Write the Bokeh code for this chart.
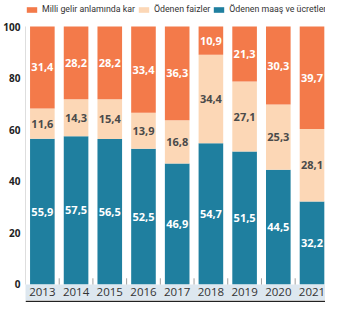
import numpy as np
from bokeh.plotting import figure
from bokeh.models import ColumnDataSource, Legend, LegendItem, Span, FixedTicker
from bokeh.core.properties import value
from bokeh.embed import file_html
from bokeh.resources import INLINE

# ---- data ----
years = ["2013", "2014", "2015", "2016", "2017", "2018", "2019", "2020", "2021"]
maas = [55.9, 57.5, 56.5, 52.5, 46.9, 54.7, 51.5, 44.5, 32.2]   # Ödenen maaş ve ücretler
faiz = [11.6, 14.3, 15.4, 13.9, 16.8, 34.4, 27.1, 25.3, 28.1]   # Ödenen faizler
kar = [31.4, 28.2, 28.2, 33.4, 36.3, 10.9, 21.3, 30.3, 39.7]    # Milli gelir anlamında kar
y_ticks = [0, 20, 40, 60, 80, 100]
series_names = ["Milli gelir anlamında kar", "Ödenen faizler", "Ödenen maaş ve ücretler"]

ORANGE = "#F37A4A"
BEIGE = "#FCD7B6"
BLUE = "#1F7F9F"
BAND = "#DDE7EF"

# 100% stacked: normalise each year to 100
m = np.array(maas); f = np.array(faiz); k = np.array(kar)
tot = m + f + k
mn = m / tot * 100; fn = f / tot * 100; kn = k / tot * 100
x = np.arange(len(years))

def fmt(v):
    return f"{v:.1f}".replace(".", ",")

src = ColumnDataSource(dict(
    x=x, maas=mn, faiz=fn, kar=kn,
    maas_y=mn / 2, faiz_y=mn + fn / 2, kar_y=mn + fn + kn / 2,
    maas_t=[fmt(v) for v in maas], faiz_t=[fmt(v) for v in faiz], kar_t=[fmt(v) for v in kar],
    years=years,
))

x_start, x_end = -0.5, len(years) - 1 + 0.4
y_top = 110.08
y_bottom = -6.98
band_bottom = -6.0

p = figure(width=325, height=302, x_range=(x_start, x_end), y_range=(y_bottom, y_top),
           toolbar_location=None, output_backend="svg", x_axis_location=None,
           min_border=0, min_border_left=0, min_border_right=0, min_border_top=0,
           min_border_bottom=0, outline_line_color=None)
p.grid.visible = False

BAR_W = 0.73
rs = p.vbar_stack(["maas", "faiz", "kar"], x="x", width=BAR_W, source=src,
                  color=[BLUE, BEIGE, ORANGE], line_color=None)
r_maas, r_faiz, r_kar = rs

# band under bars with year labels
p.quad(left=x_start - 0.05, right=x_end, bottom=band_bottom, top=y_ticks[0],
       fill_color=BAND, line_color=None)
p.text(x="x", y=band_bottom / 2, text="years", source=src, text_align="center",
       text_baseline="middle", text_font=value("Open Sans"), text_font_size="11.5px",
       text_color="#333333")

# small separators between categories
sep = x[:-1] + 0.5
p.segment(x0=sep, y0=[y_ticks[0]] * len(sep), x1=sep, y1=[2.4] * len(sep),
          line_color="#A0A0A0", line_width=1)

# y-axis line
p.segment(x0=[x_start], y0=[y_ticks[0]], x1=[x_start], y1=[y_ticks[-1]],
          line_color="#BDBDBD", line_width=1)

# bottom rule
p.add_layout(Span(location=-6.6, dimension="width", line_color="#222222", line_width=1.5))

# value labels
common = dict(source=src, x="x", text_align="center", text_baseline="middle",
              text_font=value("Open Sans"), text_font_size="11px", text_font_style="bold")
p.text(y="maas_y", text="maas_t", text_color="white", **common)
p.text(y="faiz_y", text="faiz_t", text_color="#4A4A4A", **common)
p.text(y="kar_y", text="kar_t", text_color="white", **common)

# y axis
ax = p.yaxis[0]
ax.ticker = FixedTicker(ticks=y_ticks)
ax.axis_line_color = None
ax.major_tick_line_color = None
ax.minor_tick_line_color = None
ax.major_tick_in = 0
ax.major_tick_out = 0
ax.major_label_standoff = 5
ax.major_label_text_font = "Open Sans"
ax.major_label_text_font_size = "10px"
ax.major_label_text_font_style = "bold"
ax.major_label_text_color = "#222222"

legend = Legend(items=[LegendItem(label=series_names[0], renderers=[r_kar]),
                       LegendItem(label=series_names[1], renderers=[r_faiz]),
                       LegendItem(label=series_names[2], renderers=[r_maas])],
                orientation="horizontal", location=(0, 288),
                glyph_width=13, glyph_height=7, label_standoff=4, spacing=2,
                padding=0, margin=0, border_line_color=None, background_fill_alpha=0,
                label_text_font="Roboto", label_text_font_size="8.8px",
                label_text_color="#333333")
p.add_layout(legend)

open("out.html", "w").write(file_html(p, INLINE))
